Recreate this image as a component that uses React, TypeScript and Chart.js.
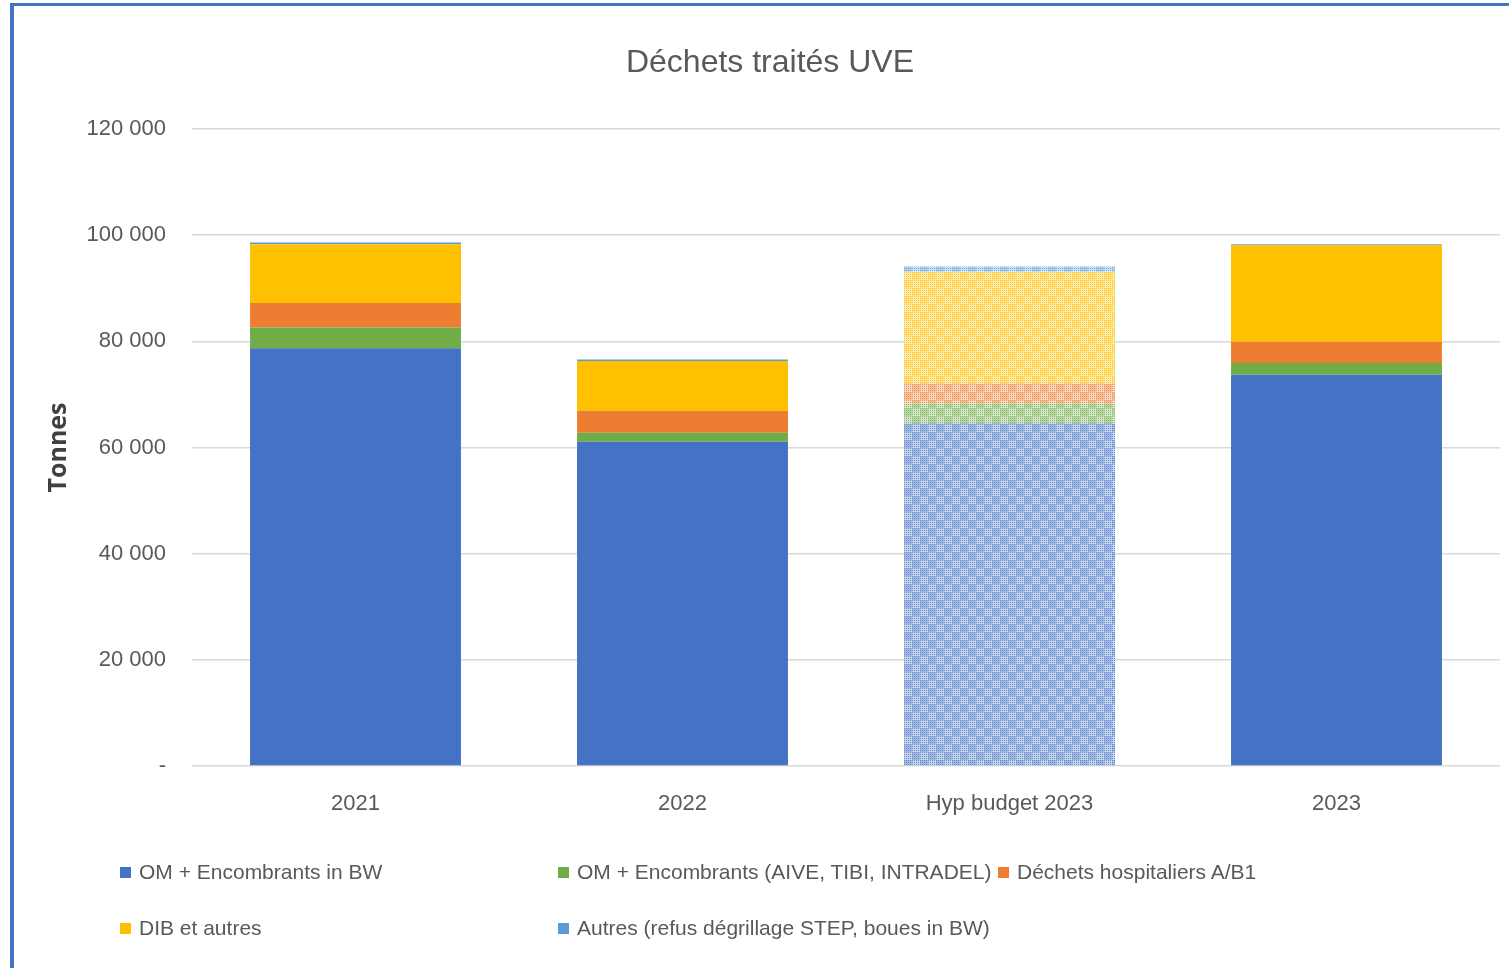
import React, { useEffect, useRef } from "react";
import { Chart, registerables } from "chart.js";

Chart.register(...registerables);

const categories = ["2021", "2022", "Hyp budget 2023", "2023"];
const omBW = [78700, 61100, 64600, 73700];
const omOther = [3900, 1700, 3700, 2200];
const hospitaliers = [4600, 4100, 3800, 4000];
const dibAutres = [11100, 9400, 21000, 18200];
const autres = [300, 300, 1000, 200];

const seriesNames = [
  "OM + Encombrants in BW",
  "OM + Encombrants (AIVE, TIBI, INTRADEL)",
  "Déchets hospitaliers A/B1",
  "DIB et autres",
  "Autres (refus dégrillage STEP, boues in BW)",
];
const seriesColors = ["#4472C4", "#70AD47", "#ED7D31", "#FFC000", "#5B9BD5"];
const seriesValues = [omBW, omOther, hospitaliers, dibAutres, autres];

const yTickValues = [0, 20000, 40000, 60000, 80000, 100000, 120000];
const yTickLabels = ["-", "20 000", "40 000", "60 000", "80 000", "100 000", "120 000"];

const patternIndex = 2; // "Hyp budget 2023" is drawn with a dotted pattern

const FONT = "'Liberation Sans', Arial, sans-serif";
const TEXT = "#595959";

function hexToRgb(hex: string) {
  const n = parseInt(hex.slice(1), 16);
  return [(n >> 16) & 255, (n >> 8) & 255, n & 255];
}

function makePattern(hex: string): CanvasPattern | string {
  const size = 16;
  const c = document.createElement("canvas");
  c.width = size;
  c.height = size;
  const ctx = c.getContext("2d");
  if (!ctx) return hex;
  const img = ctx.createImageData(size, size);
  const [r, g, b] = hexToRgb(hex);
  for (let y = 0; y < size; y++) {
    for (let x = 0; x < size; x++) {
      let a = 0.15;
      if (x % 2 === 1 || y % 2 === 1) {
        a = (Math.floor(x / 8) + Math.floor(y / 8)) % 2 ? 0.7 : 0.5;
      }
      const i = (y * size + x) * 4;
      img.data[i] = Math.round(r + (255 - r) * a);
      img.data[i + 1] = Math.round(g + (255 - g) * a);
      img.data[i + 2] = Math.round(b + (255 - b) * a);
      img.data[i + 3] = 255;
    }
  }
  ctx.putImageData(img, 0, 0);
  const p = ctx.createPattern(c, "repeat");
  return p || hex;
}

export default function App() {
  const ref = useRef<HTMLCanvasElement | null>(null);

  useEffect(() => {
    document.body.style.margin = "0";
    const canvas = ref.current;
    if (!canvas) return;
    const datasets = seriesNames.map((name, s) => ({
      label: name,
      data: seriesValues[s],
      backgroundColor: categories.map((_, i) =>
        i === patternIndex ? makePattern(seriesColors[s]) : seriesColors[s]
      ),
      borderWidth: 0,
      categoryPercentage: 1,
      barPercentage: 0.645,
    }));

    const chart = new Chart(canvas, {
      type: "bar",
      data: { labels: categories, datasets: datasets as any },
      options: {
        animation: false,
        responsive: false,
        layout: { padding: { left: 40, right: 9, top: 10, bottom: 142 } },
        plugins: {
          legend: { display: false },
          tooltip: { enabled: false },
          title: {
            display: true,
            text: "Déchets traités UVE",
            color: TEXT,
            font: { family: FONT, size: 32, weight: "normal" as any },
            padding: { top: 34, bottom: 46.6 },
          },
        },
        scales: {
          x: {
            stacked: true,
            grid: { display: false, drawTicks: false },
            border: { display: false },
            ticks: { color: TEXT, font: { family: FONT, size: 22 }, padding: 25 },
            afterFit: (scale: any) => {
              scale.height = 60;
            },
          },
          y: {
            stacked: true,
            min: 0,
            max: 120000,
            afterBuildTicks: (scale: any) => {
              scale.ticks = yTickValues.map((v) => ({ value: v }));
            },
            grid: { color: "#d9d9d9", lineWidth: 1.5, drawTicks: false },
            border: { display: false },
            ticks: {
              color: TEXT,
              font: { family: FONT, size: 22 },
              padding: 26,
              callback: (v: any) => {
                const i = yTickValues.indexOf(Number(v));
                return i >= 0 ? yTickLabels[i] : "";
              },
            },
            title: {
              display: true,
              text: "Tonnes",
              color: "#404040",
              font: { family: "'Open Sans', sans-serif", size: 25, weight: "bold" as any },
              padding: { top: 4, bottom: 0 },
            },
            afterFit: (scale: any) => {
              scale.width = 152;
            },
          },
        },
      },
    });
    return () => chart.destroy();
  }, []);

  const legendRows = [
    [
      { i: 0, x: 120 },
      { i: 1, x: 558 },
      { i: 2, x: 998 },
    ],
    [
      { i: 3, x: 120 },
      { i: 4, x: 558 },
    ],
  ];
  const rowY = [872, 928];

  return (
    <div style={{ position: "absolute", left: 0, top: 0, width: 1509, height: 968, overflow: "hidden", background: "#fff" }}>
      <canvas ref={ref} width={1509} height={968} style={{ position: "absolute", left: 0, top: 0, width: 1509, height: 968 }} />
      <div
        style={{
          position: "absolute",
          left: 10,
          top: 3,
          width: 1520,
          height: 962,
          borderLeft: "4px solid #4472C4",
          borderTop: "3px solid #4472C4",
          borderBottom: "1px solid #cfdaf2",
          pointerEvents: "none",
        }}
      />
      {legendRows.map((row, r) =>
        row.map((it) => (
          <div
            key={it.i}
            style={{
              position: "absolute",
              left: it.x,
              top: rowY[r] - 16,
              height: 32,
              display: "flex",
              alignItems: "center",
              fontFamily: FONT,
              fontSize: 21,
              color: TEXT,
              whiteSpace: "nowrap",
            }}
          >
            <span style={{ display: "inline-block", width: 11, height: 11, background: seriesColors[it.i], marginRight: 8 }} />
            {seriesNames[it.i]}
          </div>
        ))
      )}
    </div>
  );
}
